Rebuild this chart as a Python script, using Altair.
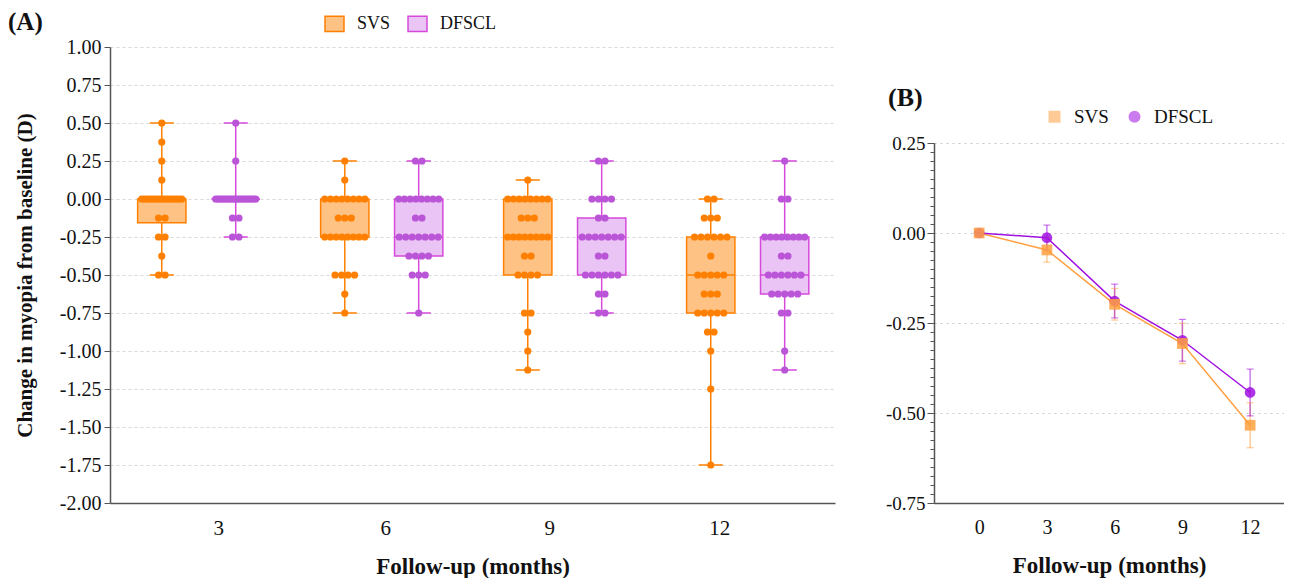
import altair as alt
import pandas as pd

GROUPS = ["SVS", "DFSCL"]
FOLLOWUP = ["3", "6", "9", "12"]

# ---------------- Panel A: individual changes (D), distinct values and counts ----------------
SVS_VALUES = [
    [0.5, 0.375, 0.25, 0.125, 0.0, -0.125, -0.25, -0.375, -0.5],
    [0.25, 0.125, 0.0, -0.125, -0.25, -0.5, -0.625, -0.75],
    [0.125, 0.0, -0.125, -0.25, -0.375, -0.5, -0.75, -0.875, -1.0, -1.125],
    [0.0, -0.125, -0.25, -0.375, -0.5, -0.625, -0.75, -0.875, -1.0, -1.25, -1.75],
]
SVS_COUNTS = [
    [1, 1, 1, 1, 16, 2, 2, 1, 2],
    [1, 1, 8, 3, 8, 4, 1, 1],
    [1, 8, 3, 8, 2, 4, 2, 1, 1, 1],
    [2, 3, 6, 1, 5, 3, 5, 2, 1, 1, 1],
]
DFSCL_VALUES = [
    [0.5, 0.25, 0.0, -0.125, -0.25],
    [0.25, 0.0, -0.125, -0.25, -0.375, -0.5, -0.75],
    [0.25, 0.0, -0.125, -0.25, -0.375, -0.5, -0.625, -0.75],
    [0.25, 0.0, -0.25, -0.375, -0.5, -0.625, -0.75, -1.0, -1.125],
]
DFSCL_COUNTS = [
    [1, 1, 20, 2, 2],
    [2, 8, 2, 7, 4, 3, 1],
    [2, 4, 2, 7, 2, 6, 2, 2],
    [1, 2, 8, 2, 6, 5, 2, 1, 1],
]

# box statistics (min, Q1, median, Q3, max) per follow-up
SVS_MIN = [-0.5, -0.75, -1.125, -1.75]
SVS_Q1 = [-0.156, -0.25, -0.5, -0.75]
SVS_MEDIAN = [0.0, -0.25, -0.25, -0.5]
SVS_Q3 = [0.0, 0.0, 0.0, -0.25]
SVS_MAX = [0.5, 0.25, 0.125, 0.0]
DFSCL_MIN = [-0.25, -0.75, -0.75, -1.125]
DFSCL_Q1 = [0.0, -0.375, -0.5, -0.625]
DFSCL_MEDIAN = [0.0, -0.25, -0.25, -0.5]
DFSCL_Q3 = [0.0, 0.0, -0.125, -0.25]
DFSCL_MAX = [0.5, 0.25, 0.25, 0.25]

# ---------------- Panel B: mean change and error ----------------
B_MONTHS = [0, 3, 6, 9, 12]
SVS_MEAN = [0.0, -0.047, -0.198, -0.307, -0.534]
SVS_SE = [0.0, 0.034, 0.044, 0.056, 0.0625]
DFSCL_MEAN = [0.0, -0.013, -0.189, -0.298, -0.443]
DFSCL_SE = [0.0, 0.035, 0.047, 0.058, 0.065]

# ---------------- styling / layout ----------------
FONT = "Liberation Serif"
FILL = ["#FFC285", "#EAC4F4"]
STROKE = ["#FF8000", "#D649DB"]
DOT = ["#FF8000", "#BA55D8"]
B_COLOR = ["#FFA040", "#A010E0"]

A_W, A_H = 725, 456
BAND_PX = 182.9
X_DOMAIN = [-0.485, 3.477]
GROUP_SHIFT = [-0.202, 0.202]
BOX_HALF = 0.132
CAP_HALF = 0.066
DOT_STEP_PX = 6.5
ROW_MAX_PX = 40.0
LABEL_AT = [0.106, 1.019, 1.915, 2.845]
A_TICKS_EVEN = [-2 + 0.5 * i for i in range(7)]
A_TICKS_ODD = [-1.75 + 0.5 * i for i in range(6)]

B_W, B_H = 350, 456
B_RANGE = [456, 96]
B_XDOMAIN = [-2.0, -2.0 + B_W / 22.58]
B_MAJOR = [-0.75, -0.5, -0.25, 0.0, 0.25]
B_MINOR = [round(-0.75 + 0.025 * i, 3) for i in range(41)]

# ---------------- build tables ----------------
values = {"SVS": SVS_VALUES, "DFSCL": DFSCL_VALUES}
counts = {"SVS": SVS_COUNTS, "DFSCL": DFSCL_COUNTS}
stats = {
    "SVS": (SVS_MIN, SVS_Q1, SVS_MEDIAN, SVS_Q3, SVS_MAX),
    "DFSCL": (DFSCL_MIN, DFSCL_Q1, DFSCL_MEDIAN, DFSCL_Q3, DFSCL_MAX),
}

dot_rows, box_rows = [], []
for gi, g in enumerate(GROUPS):
    for k in range(len(FOLLOWUP)):
        xc = k + GROUP_SHIFT[gi]
        lo, q1, med, q3, hi = (s[k] for s in stats[g])
        box_rows.append(dict(group=g, xc=xc, x0=xc - BOX_HALF, x1=xc + BOX_HALF,
                             c0=xc - CAP_HALF, c1=xc + CAP_HALF,
                             lo=lo, q1=q1, med=med, q3=q3, hi=hi))
        for v, n in zip(values[g][k], counts[g][k]):
            step = DOT_STEP_PX if n < 2 else min(DOT_STEP_PX, ROW_MAX_PX / (n - 1))
            for i in range(n):
                off = (i - (n - 1) / 2) * step / BAND_PX
                dot_rows.append(dict(group=g, value=v, x=xc + off))
dots = pd.DataFrame(dot_rows)
boxes = pd.DataFrame(box_rows)

b_rows = []
for g, means, ses in (("SVS", SVS_MEAN, SVS_SE), ("DFSCL", DFSCL_MEAN, DFSCL_SE)):
    for m, mu, se in zip(B_MONTHS, means, ses):
        b_rows.append(dict(group=g, month=m, mean=mu, lo=mu - se, hi=mu + se))
bdf = pd.DataFrame(b_rows)

DASH_FIX = "replace(format(datum.value, '.2f'), '\u2212', '-')"

# ---------------- Panel A ----------------
xs_a = alt.Scale(domain=X_DOMAIN, nice=False, zero=False)
ys_a = alt.Scale(domain=[-2, 1], nice=False, zero=False)
stroke_sc = alt.Scale(domain=GROUPS, range=STROKE)
fill_sc = alt.Scale(domain=GROUPS, range=FILL)
dot_sc = alt.Scale(domain=GROUPS, range=DOT)

x_axis_a = alt.Axis(
    values=LABEL_AT, grid=False, ticks=False, domainColor="#555", domainWidth=1.5,
    labelExpr="datum.value < 0.5 ? '3' : datum.value < 1.5 ? '6' : datum.value < 2.5 ? '9' : '12'",
    labelFontSize=21, labelPadding=14, labelColor="#111", labelFont=FONT, labelOverlap=False,
    title="Follow-up (months)", titleFontSize=23, titleFontWeight="bold", titleFont=FONT,
    titlePadding=17, titleColor="#111",
)
y_axis_a = alt.Axis(
    values=A_TICKS_EVEN, grid=True, gridDash=[3, 3], gridColor="#d8d8d8",
    labelExpr=DASH_FIX, labelOverlap=False,
    tickSize=6, tickColor="#555", domainColor="#555", domainWidth=1.5,
    labelFontSize=20, labelColor="#111", labelFont=FONT, labelPadding=3,
    title="Change in myopia from baseline (D)", titleFontSize=21, titleFontWeight="bold",
    titleFont=FONT, titlePadding=24, titleColor="#111", orient="left",
)
y_axis_a_odd = alt.Axis(
    values=A_TICKS_ODD, grid=True, gridDash=[3, 3], gridColor="#d8d8d8",
    labelExpr=DASH_FIX, labelOverlap=False, domain=False,
    tickSize=6, tickColor="#555",
    labelFontSize=20, labelColor="#111", labelFont=FONT, labelPadding=3,
    title=None, orient="left",
)

legend_a = alt.Legend(
    orient="none", legendX=214, legendY=-34, direction="horizontal", title=None,
    symbolType="M-1,-0.8H1V0.8H-1Z", symbolSize=360, symbolStrokeWidth=1.5,
    labelFontSize=18, labelFont=FONT, labelColor="#111", labelOffset=12,
    columnPadding=14, padding=0,
)

base_a = alt.Chart(boxes)
whisk = base_a.mark_rule(strokeWidth=1.5).encode(
    x=alt.X("xc:Q", scale=xs_a, axis=x_axis_a),
    y=alt.Y("lo:Q", scale=ys_a, axis=y_axis_a),
    y2="hi:Q",
    stroke=alt.Stroke("group:N", scale=stroke_sc, legend=legend_a, sort=GROUPS),
)
cap_lo = base_a.mark_rule(strokeWidth=1.5).encode(
    x="c0:Q", x2="c1:Q", y="lo:Q",
    stroke=alt.Stroke("group:N", scale=stroke_sc, sort=GROUPS),
)
cap_hi = base_a.mark_rule(strokeWidth=1.5).encode(
    x="c0:Q", x2="c1:Q", y="hi:Q",
    stroke=alt.Stroke("group:N", scale=stroke_sc, sort=GROUPS),
)
box = base_a.mark_rect(strokeWidth=1.5).encode(
    x="x0:Q", x2="x1:Q", y="q1:Q", y2="q3:Q",
    fill=alt.Fill("group:N", scale=fill_sc, legend=legend_a, sort=GROUPS),
    stroke=alt.Stroke("group:N", scale=stroke_sc, legend=legend_a, sort=GROUPS),
)
median = base_a.mark_rule(strokeWidth=1.5).encode(
    x="x0:Q", x2="x1:Q", y="med:Q",
    stroke=alt.Stroke("group:N", scale=stroke_sc, sort=GROUPS),
)
pts = alt.Chart(dots).mark_circle(size=52, opacity=1).encode(
    x="x:Q", y="value:Q",
    color=alt.Color("group:N", scale=dot_sc, legend=None),
)
odd_axis_layer = base_a.mark_point(opacity=0).encode(
    x="xc:Q", y=alt.Y("lo:Q", scale=ys_a, axis=y_axis_a_odd),
)

main_a = alt.layer(whisk, cap_lo, cap_hi, box, median, pts)
panel_a = alt.layer(main_a, odd_axis_layer).resolve_axis(y="independent").properties(
    width=A_W, height=A_H,
    title=alt.TitleParams("(A)", anchor="start", frame="group", dx=-102, dy=25, offset=3,
                          fontSize=25, font=FONT, fontWeight="bold", color="#111"),
)

# ---------------- Panel B ----------------
xs_b = alt.Scale(domain=B_XDOMAIN, nice=False, zero=False)
ys_b = alt.Scale(domain=[-0.75, 0.25], range=B_RANGE, nice=False, zero=False)
bcol = alt.Scale(domain=GROUPS, range=B_COLOR)
shape_sc = alt.Scale(domain=GROUPS, range=["square", "circle"])

x_axis_b = alt.Axis(
    values=B_MONTHS, grid=False, ticks=False, domainColor="#555", domainWidth=1.5,
    labelFontSize=20, labelPadding=14, labelColor="#111", labelFont=FONT, labelOverlap=False,
    title="Follow-up (months)", titleFontSize=23, titleFontWeight="bold", titleFont=FONT,
    titlePadding=17, titleColor="#111",
)
y_axis_b = alt.Axis(
    values=B_MAJOR, grid=True, gridDash=[2, 4], gridColor="#c8c8c8",
    tickSize=7, tickColor="#555", domainColor="#555", domainWidth=1.5,
    labelExpr=DASH_FIX, labelOverlap=False, labelFontSize=19, labelColor="#111",
    labelFont=FONT, labelPadding=2, title=None, orient="left",
)
y_axis_b_minor = alt.Axis(
    values=B_MINOR, grid=False, labels=False, domain=False, tickSize=4,
    tickColor="#555", title=None, orient="left",
)

legend_b = alt.Legend(
    orient="none", legendX=111, legendY=60, direction="horizontal", title=None,
    symbolSize=110, labelFontSize=19, labelFont=FONT, labelColor="#111",
    labelOffset=10, columnPadding=16, padding=0, symbolOpacity=0.9,
)

base_b = alt.Chart(bdf)
lines = base_b.mark_line(strokeWidth=1.5).encode(
    x=alt.X("month:Q", scale=xs_b, axis=x_axis_b),
    y=alt.Y("mean:Q", scale=ys_b, axis=y_axis_b),
    color=alt.Color("group:N", scale=bcol, sort=GROUPS),
)
err = base_b.mark_rule(strokeWidth=1.5, opacity=0.55).encode(
    x="month:Q", y="lo:Q", y2="hi:Q",
    color=alt.Color("group:N", scale=bcol, sort=GROUPS),
)
cap_b_lo = base_b.mark_tick(orient="horizontal", size=7, thickness=1.2, opacity=0.55).encode(
    x="month:Q", y="lo:Q", color=alt.Color("group:N", scale=bcol, sort=GROUPS),
)
cap_b_hi = base_b.mark_tick(orient="horizontal", size=7, thickness=1.2, opacity=0.55).encode(
    x="month:Q", y="hi:Q", color=alt.Color("group:N", scale=bcol, sort=GROUPS),
)
marks_b = base_b.mark_point(filled=True, size=115, opacity=0.85).encode(
    x="month:Q", y="mean:Q",
    color=alt.Color("group:N", scale=bcol, legend=legend_b, sort=GROUPS),
    shape=alt.Shape("group:N", scale=shape_sc, legend=legend_b, sort=GROUPS),
    order=alt.Order("group:N", sort="ascending"),
)
minor_ticks = base_b.mark_point(opacity=0).encode(
    x="month:Q",
    y=alt.Y("mean:Q", scale=ys_b, axis=y_axis_b_minor),
)

main_b = alt.layer(lines, err, cap_b_lo, cap_b_hi, marks_b)
panel_b = alt.layer(main_b, minor_ticks).resolve_axis(y="independent").properties(
    width=B_W, height=B_H,
    title=alt.TitleParams("(B)", anchor="start", frame="group", dx=-46, dy=68, fontSize=26,
                          font=FONT, fontWeight="bold", color="#111"),
)

chart = alt.hconcat(panel_a, panel_b, spacing=99, bounds="flush").resolve_scale(
    x="independent", y="independent", color="independent", fill="independent",
    stroke="independent", shape="independent",
).properties(
    padding={"left": 0, "top": 2, "right": 0, "bottom": 0},
).configure(background="white").configure_view(
    stroke=None, strokeWidth=0
).configure_axis(labelOverlap=False)

chart.save("out.html", embed_options={"renderer": "svg", "actions": False})
